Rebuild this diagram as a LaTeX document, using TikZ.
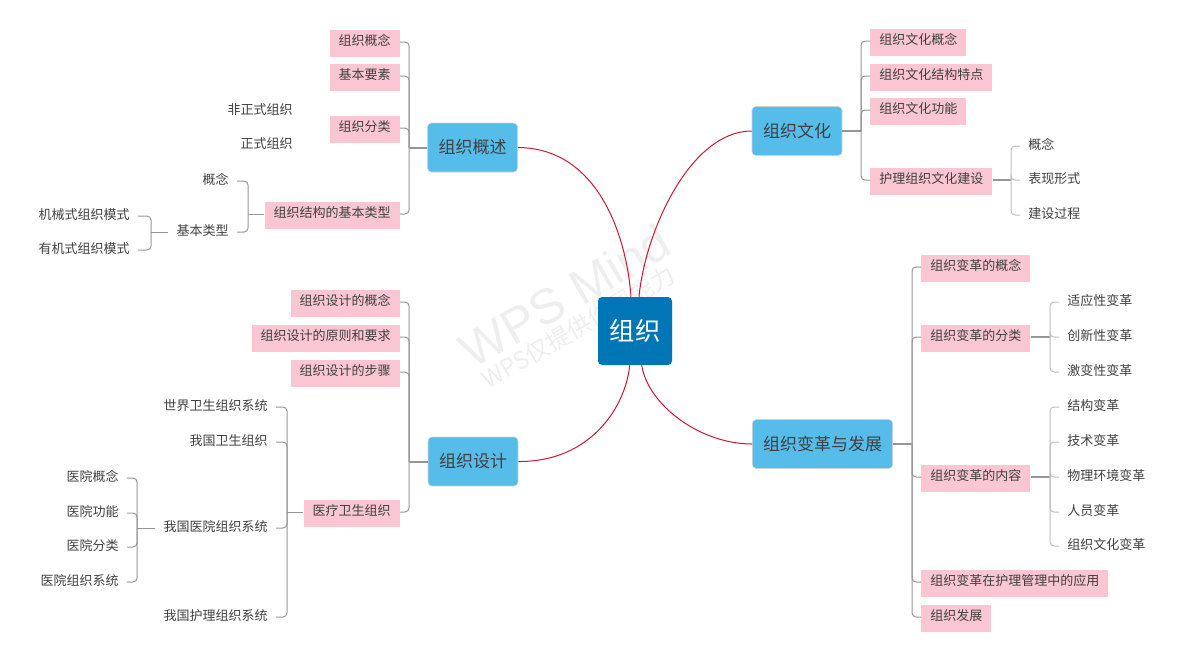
\documentclass[tikz,border=0pt]{standalone}
\usepackage{fontspec}
\setmainfont{Noto Sans CJK SC}
\newfontfamily\wmfont{Liberation Sans}

\definecolor{rootblue}{RGB}{0,118,182}
\definecolor{topicblue}{RGB}{86,189,234}
\definecolor{subpink}{RGB}{249,198,210}
\definecolor{inkgray}{RGB}{64,64,64}
\definecolor{linkgray}{RGB}{150,150,150}
\definecolor{lightlink}{RGB}{190,190,190}
\definecolor{curvered}{RGB}{200,25,55}
\definecolor{wmgray}{RGB}{238,238,238}

\tikzset{
  root/.style={fill=rootblue, text=white, rounded corners=3pt, minimum width=55.5pt,
    minimum height=51pt, font=\fontsize{19pt}{19pt}\selectfont},
  topic/.style={fill=topicblue, draw=black!18, rounded corners=3pt, text=inkgray,
    inner xsep=8pt, minimum width=67.5pt, minimum height=36.75pt,
    font=\fontsize{12.75pt}{13pt}\selectfont},
  sub/.style={fill=subpink, text=inkgray, inner xsep=6.75pt, inner ysep=0pt,
    text height=12pt, text depth=8.3pt, font=\fontsize{9.75pt}{10pt}\selectfont},
  leaf/.style={text=inkgray, inner xsep=6pt, inner ysep=2pt,
    font=\fontsize{9.75pt}{10pt}\selectfont},
  link/.style={draw=linkgray, line width=0.75pt, rounded corners=3pt},
  softlink/.style={draw=lightlink, line width=0.75pt, rounded corners=3pt},
  trunk/.style={draw=linkgray, line width=1.5pt},
  curve/.style={draw=curvered, line width=0.75pt},
  wm/.style={text=wmgray, inner sep=0pt}
}

\begin{document}
\begin{tikzpicture}[x=0.75pt,y=-0.75pt]
\useasboundingbox (0,0) rectangle (1188,662);

% Watermark
\node[wm, rotate=30, font=\wmfont\fontsize{37pt}{37pt}\selectfont] (wmA) at (565,296) {WPS Mind};
\node[wm, rotate=30, font=\fontsize{18pt}{18pt}\selectfont] (wmB) at (578,327) {WPS仅提供作图能力};

% Root
\node[root] (root) at (635,331) {组织};

% Main topics
\node[topic] (gaishu) at (472.5,147.5) {组织概述};
\node[topic] (sheji) at (473,461.5) {组织设计};
\node[topic] (wenhua) at (797,131) {组织文化};
\node[topic] (biange) at (822.5,444) {组织变革与发展};

% Curves from root
\draw[curve] (gaishu.east) .. controls (600,148) and (627,240) .. ([xshift=-3pt]root.north);
\draw[curve] (wenhua.west) .. controls (690,131) and (645,232) .. ([xshift=3pt]root.north);
\draw[curve] (sheji.east) .. controls (592,462) and (626,405) .. ([xshift=-4pt]root.south);
\draw[curve] (biange.west) .. controls (700,444) and (648,405) .. ([xshift=5pt]root.south);

% 组织概述
\coordinate (gsJ) at (409,147.5);
\draw[trunk] (gaishu.west) -- (gsJ);
\foreach \nm/\txt/\y in {gs1/组织概念/42, gs2/基本要素/76, gs3/组织分类/128, gs4/组织结构的基本类型/214}{
  \node[sub, anchor=mid east] (\nm) at (400,\y) {\txt};
  \draw[link] (\nm.mid east) -| (gsJ);
}
\node[leaf, anchor=mid east] (feizs) at (301,111) {非正式组织};
\node[leaf, anchor=mid east] (zhengs) at (301,145) {正式组织};

\coordinate (lxJ) at (248,214);
\draw[link] (gs4.mid west) -- (lxJ);
\foreach \nm/\txt/\y in {lxgn/概念/181, jblx/基本类型/232}{
  \node[leaf, anchor=mid east] (\nm) at (237,\y) {\txt};
  \draw[link] (\nm.mid east) -| (lxJ);
}
\coordinate (msJ) at (151,232);
\draw[link] (jblx.mid west) -- (msJ);
\foreach \nm/\txt/\y in {jixie/机械式组织模式/216, youji/有机式组织模式/250}{
  \node[leaf, anchor=mid east] (\nm) at (138,\y) {\txt};
  \draw[link] (\nm.mid east) -| (msJ);
}

% 组织设计
\coordinate (sjJ) at (409,461.5);
\draw[trunk] (sheji.west) -- (sjJ);
\foreach \nm/\txt/\y in {sj1/组织设计的概念/302, sj2/组织设计的原则和要求/337, sj3/组织设计的步骤/372, sj4/医疗卫生组织/512}{
  \node[sub, anchor=mid east] (\nm) at (400,\y) {\txt};
  \draw[link] (\nm.mid east) -| (sjJ);
}
\coordinate (wsJ) at (287,512);
\draw[link] (sj4.mid west) -- (wsJ);
\foreach \nm/\txt/\y in {ws1/世界卫生组织系统/407, ws2/我国卫生组织/442, ws3/我国医院组织系统/528, ws4/我国护理组织系统/617}{
  \node[leaf, anchor=mid east] (\nm) at (276,\y) {\txt};
  \draw[link] (\nm.mid east) -| (wsJ);
}
\coordinate (yyJ) at (137,528);
\draw[link] (ws3.mid west) -- (yyJ);
\foreach \nm/\txt/\y in {yy1/医院概念/478, yy2/医院功能/513, yy3/医院分类/547, yy4/医院组织系统/582}{
  \node[leaf, anchor=mid east] (\nm) at (127,\y) {\txt};
  \draw[link] (\nm.mid east) -| (yyJ);
}

% 组织文化
\coordinate (whJ) at (861,131);
\draw[trunk] (wenhua.east) -- (whJ);
\foreach \nm/\txt/\y in {wh1/组织文化概念/41, wh2/组织文化结构特点/76, wh3/组织文化功能/110, wh4/护理组织文化建设/180}{
  \node[sub, anchor=mid west] (\nm) at (870,\y) {\txt};
  \draw[link] (\nm.mid west) -| (whJ);
}
\coordinate (jsJ) at (1011,180);
\draw[trunk] (wh4.mid east) -- (jsJ);
\foreach \nm/\txt/\y in {js1/概念/146, js2/表现形式/180, js3/建设过程/215}{
  \node[leaf, anchor=mid west] (\nm) at (1020,\y) {\txt};
  \draw[softlink] (\nm.mid west) -| (jsJ);
}

% 组织变革与发展
\coordinate (bgJ) at (912,444);
\draw[trunk] (biange.east) -- (bgJ);
\foreach \nm/\txt/\y in {bg1/组织变革的概念/267, bg2/组织变革的分类/337, bg3/组织变革的内容/477, bg4/组织变革在护理管理中的应用/582, bg5/组织发展/617}{
  \node[sub, anchor=mid west] (\nm) at (921,\y) {\txt};
  \draw[link] (\nm.mid west) -| (bgJ);
}
\coordinate (flJ) at (1050,337);
\draw[trunk] (bg2.mid east) -- (flJ);
\foreach \nm/\txt/\y in {fl1/适应性变革/302, fl2/创新性变革/337, fl3/激变性变革/372}{
  \node[leaf, anchor=mid west] (\nm) at (1059,\y) {\txt};
  \draw[softlink] (\nm.mid west) -| (flJ);
}
\coordinate (nrJ) at (1050,477);
\draw[trunk] (bg3.mid east) -- (nrJ);
\foreach \nm/\txt/\y in {nr1/结构变革/407, nr2/技术变革/442, nr3/物理环境变革/477, nr4/人员变革/512, nr5/组织文化变革/546}{
  \node[leaf, anchor=mid west] (\nm) at (1059,\y) {\txt};
  \draw[softlink] (\nm.mid west) -| (nrJ);
}

\end{tikzpicture}
\end{document}
